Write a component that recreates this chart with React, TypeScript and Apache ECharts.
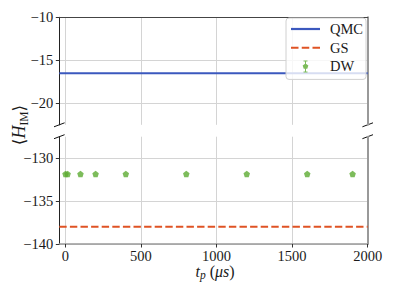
import React, { useEffect, useRef } from "react";
import * as echarts from "echarts";

// ---- data ----
const xTicks = [0, 500, 1000, 1500, 2000];
const topYTicks = [-20, -15, -10];
const bottomYTicks = [-140, -135, -130];
const xRange = [-40, 2000];
const topYRange = [-22.5, -10];
const bottomYRange = [-140, -127.5];
const qmcValue = -16.5;
const gsValue = -138.0;
const dwTimes = [1, 15, 100, 200, 400, 800, 1200, 1600, 1900];
const dwValues = [-131.85, -131.85, -131.85, -131.85, -131.85, -131.85, -131.85, -131.85, -131.85];

const BLUE = "#3b58be";
const ORANGE = "#df5324";
const GREEN = "#5cab32";
const FONT = "'Liberation Serif', serif";
const TXT = "#1a1a1a";
const GRIDC = "#d4d4d4";

const fmt = (v: number) => String(v).replace("-", "\u2212");

const pentagon =
  "path://M0,-1 L0.951,-0.309 L0.588,0.809 L-0.588,0.809 L-0.951,-0.309 Z";

const GL = 59.3;
const GW = 308.4;
const G1T = 17.3;
const G1H = 107.5;
const G2T = 136.7;
const G2H = 107.3;

export default function App() {
  const ref = useRef<HTMLDivElement>(null);
  useEffect(() => {
    document.body.style.margin = "0";
    if (!ref.current) return;
    const chart = echarts.init(ref.current, undefined, { renderer: "svg" });

    const labelStyle = { fontFamily: FONT, fontSize: 14.5, color: TXT };
    const splitLine = { show: true, lineStyle: { color: GRIDC, width: 1 } };

    const option: any = {
      animation: false,
      grid: [
        { left: GL, top: G1T, width: GW, height: G1H },
        { left: GL, top: G2T, width: GW, height: G2H },
      ],
      xAxis: [
        {
          gridIndex: 0,
          type: "value",
          min: xRange[0],
          max: xRange[1],
          position: "top",
          axisLine: { show: true, onZero: false, lineStyle: { color: "#444", width: 1 } },
          axisTick: { show: false, customValues: xTicks },
          axisLabel: { show: false, customValues: xTicks },
          splitLine,
        },
        {
          gridIndex: 1,
          type: "value",
          min: xRange[0],
          max: xRange[1],
          position: "bottom",
          axisLine: { show: true, onZero: false, lineStyle: { color: "#999", width: 1.5 } },
          axisTick: { show: true, length: 3.5, customValues: xTicks, lineStyle: { color: "#333" } },
          axisLabel: { ...labelStyle, margin: 4, customValues: xTicks, formatter: fmt },
          splitLine,
        },
      ],
      yAxis: [
        {
          gridIndex: 0,
          type: "value",
          min: topYRange[0],
          max: topYRange[1],
          axisLine: { show: true, onZero: false, lineStyle: { color: "#222", width: 1 } },
          axisTick: { show: true, length: 3.5, customValues: topYTicks, lineStyle: { color: "#333" } },
          axisLabel: { ...labelStyle, margin: 6, customValues: topYTicks, formatter: fmt },
          splitLine,
        },
        {
          gridIndex: 0,
          type: "value",
          position: "right",
          min: topYRange[0],
          max: topYRange[1],
          axisLine: { show: true, onZero: false, lineStyle: { color: "#999", width: 2 } },
          axisTick: { show: false },
          axisLabel: { show: false },
          splitLine: { show: false },
        },
        {
          gridIndex: 1,
          type: "value",
          min: bottomYRange[0],
          max: bottomYRange[1],
          axisLine: { show: true, onZero: false, lineStyle: { color: "#222", width: 1 } },
          axisTick: { show: true, length: 3.5, customValues: bottomYTicks, lineStyle: { color: "#333" } },
          axisLabel: { ...labelStyle, margin: 6, customValues: bottomYTicks, formatter: fmt },
          splitLine,
        },
        {
          gridIndex: 1,
          type: "value",
          position: "right",
          min: bottomYRange[0],
          max: bottomYRange[1],
          axisLine: { show: true, onZero: false, lineStyle: { color: "#999", width: 2 } },
          axisTick: { show: false },
          axisLabel: { show: false },
          splitLine: { show: false },
        },
      ],
      legend: {
        orient: "vertical",
        left: 286,
        top: 18,
        padding: [3, 3, 5, 5],
        itemWidth: 29,
        itemHeight: 12,
        itemGap: 2.7,
        backgroundColor: "rgba(255,255,255,0.8)",
        borderColor: "#d0d0d0",
        borderWidth: 1,
        borderRadius: 3,
        textStyle: {
          fontFamily: FONT,
          fontSize: 14.5,
          color: TXT,
          lineHeight: 16,
          padding: [0, 0, 0, 5],
        },
        data: [
          { name: "QMC", icon: "path://M0,0h29v2.2h-29z" },
          {
            name: "GS",
            icon: "path://M0,0h7.4v2h-7.4z M10.6,0h7.4v2h-7.4z M21.2,0h7.4v2h-7.4z",
          },
          {
            name: "DW",
            icon:
              "path://M12.5,0h4v1h-4z M14,0h1v12h-1z M12.5,11h4v1h-4z M14.5,3L17.35,5.07L16.26,8.43L12.74,8.43L11.65,5.07Z",
          },
        ],
      },
      series: [
        {
          name: "QMC",
          type: "line",
          xAxisIndex: 0,
          yAxisIndex: 0,
          showSymbol: false,
          color: BLUE,
          lineStyle: { color: BLUE, width: 2 },
          data: [
            [xRange[0], qmcValue],
            [xRange[1], qmcValue],
          ],
        },
        {
          name: "GS",
          type: "line",
          xAxisIndex: 1,
          yAxisIndex: 2,
          showSymbol: false,
          color: ORANGE,
          lineStyle: { color: ORANGE, width: 2, type: [7.4, 3.2] },
          data: [
            [xRange[0], gsValue],
            [xRange[1], gsValue],
          ],
        },
        {
          name: "DW",
          type: "scatter",
          xAxisIndex: 1,
          yAxisIndex: 2,
          symbol: pentagon,
          symbolSize: 6.5,
          color: GREEN,
          itemStyle: { color: GREEN },
          data: dwTimes.map((t, i) => [t, dwValues[i]]),
        },
      ],
      graphic: [
        // break marks
        ...[124.8, 136.7].flatMap((y) =>
          [GL, GL + GW].map((x) => ({
            type: "line",
            shape: { x1: x - 5.3, y1: y + 2, x2: x + 5.3, y2: y - 2 },
            style: { stroke: "#111", lineWidth: 1 },
            silent: true,
          }))
        ),
        {
          type: "text",
          x: 19,
          y: 125,
          rotation: Math.PI / 2,
          style: {
            text: "{a|\u27e8}{h|H}{s|IM}{a|\u27e9}",
            align: "center",
            verticalAlign: "middle",
            fill: TXT,
            rich: {
              a: { fontFamily: "DejaVu Serif", fontSize: 17, lineHeight: 22, verticalAlign: "middle", fill: TXT },
              h: { fontFamily: FONT, fontStyle: "italic", fontSize: 18, lineHeight: 22, verticalAlign: "middle", fill: TXT },
              s: { fontFamily: FONT, fontSize: 11.5, lineHeight: 13, verticalAlign: "bottom", fill: TXT },
            },
          },
        },
        {
          type: "text",
          x: 215,
          y: 271,
          style: {
            text: "{i|t}{s|p}{n| (}{i|\u03bcs}{n|)}",
            align: "center",
            verticalAlign: "middle",
            fill: TXT,
            rich: {
              i: { fontFamily: FONT, fontStyle: "italic", fontSize: 16, lineHeight: 20, verticalAlign: "middle", fill: TXT },
              n: { fontFamily: FONT, fontSize: 16, lineHeight: 20, verticalAlign: "middle", fill: TXT },
              s: { fontFamily: FONT, fontStyle: "italic", fontSize: 11.5, lineHeight: 12, verticalAlign: "bottom", fill: TXT },
            },
          },
        },
      ],
    };
    chart.setOption(option);
    return () => chart.dispose();
  }, []);
  return <div ref={ref} style={{ width: 395, height: 296 }} />;
}
